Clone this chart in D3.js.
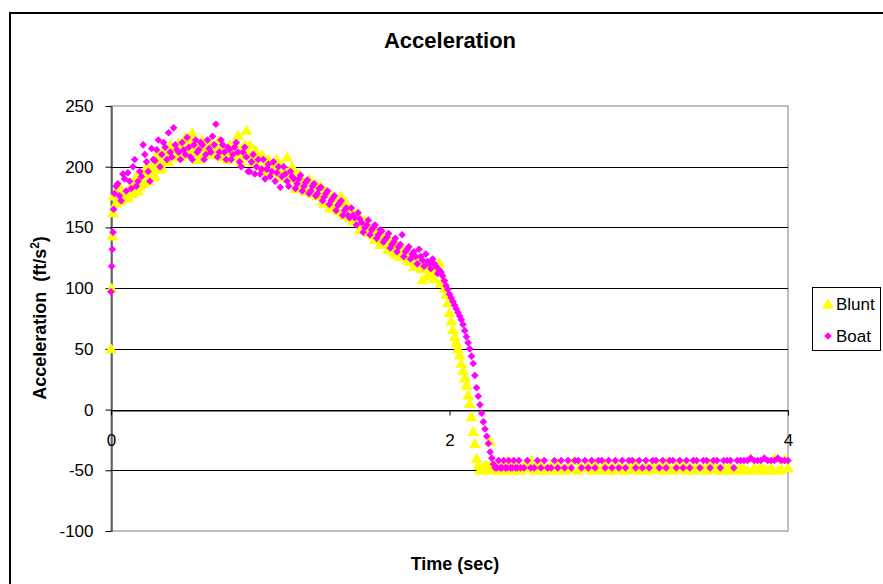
<!DOCTYPE html>
<html>
<head>
<meta charset="utf-8">
<script src="https://cdn.jsdelivr.net/npm/d3@7"></script>
<style>
  body { margin: 0; background: #fff; }
  text { font-family: Arial, "Liberation Sans", sans-serif; fill: #000; }
</style>
</head>
<body>
<div id="chart"></div>
<script>
// sample times (sec), shared by both runs
var time = [
  0, 0.004, 0.008, 0.012, 0.016,
  0.02, 0.03, 0.04, 0.05, 0.06, 0.07, 0.08, 0.09, 0.10, 0.11,
  0.12, 0.13, 0.14, 0.15, 0.16, 0.17, 0.18, 0.19, 0.20, 0.21,
  0.22, 0.23, 0.24, 0.25, 0.26, 0.27, 0.28, 0.29, 0.30, 0.31,
  0.32, 0.33, 0.34, 0.35, 0.36, 0.37, 0.38, 0.39, 0.40, 0.41,
  0.42, 0.43, 0.44, 0.45, 0.46, 0.47, 0.48, 0.49, 0.50, 0.51,
  0.52, 0.53, 0.54, 0.55, 0.56, 0.57, 0.58, 0.59, 0.60, 0.61,
  0.62, 0.63, 0.64, 0.65, 0.66, 0.67, 0.68, 0.69, 0.70, 0.71,
  0.72, 0.73, 0.74, 0.75, 0.76, 0.77, 0.78, 0.79, 0.80, 0.81,
  0.82, 0.83, 0.84, 0.85, 0.86, 0.87, 0.88, 0.89, 0.90, 0.91,
  0.92, 0.93, 0.94, 0.95, 0.96, 0.97, 0.98, 0.99, 1.00, 1.01,
  1.02, 1.03, 1.04, 1.05, 1.06, 1.07, 1.08, 1.09, 1.10, 1.11,
  1.12, 1.13, 1.14, 1.15, 1.16, 1.17, 1.18, 1.19, 1.20, 1.21,
  1.22, 1.23, 1.24, 1.25, 1.26, 1.27, 1.28, 1.29, 1.30, 1.31,
  1.32, 1.33, 1.34, 1.35, 1.36, 1.37, 1.38, 1.39, 1.40, 1.41,
  1.42, 1.43, 1.44, 1.45, 1.46, 1.47, 1.48, 1.49, 1.50, 1.51,
  1.52, 1.53, 1.54, 1.55, 1.56, 1.57, 1.58, 1.59, 1.60, 1.61,
  1.62, 1.63, 1.64, 1.65, 1.66, 1.67, 1.68, 1.69, 1.70, 1.71,
  1.72, 1.73, 1.74, 1.75, 1.76, 1.77, 1.78, 1.79, 1.80, 1.81,
  1.82, 1.83, 1.84, 1.85, 1.86, 1.87, 1.88, 1.89, 1.90, 1.91,
  1.92, 1.93, 1.94, 1.95, 1.96, 1.97, 1.98, 1.99, 2.00, 2.01,
  2.02, 2.03, 2.04, 2.05, 2.06, 2.07, 2.08, 2.09, 2.10, 2.11,
  2.12, 2.13, 2.14, 2.15, 2.16, 2.17, 2.18, 2.19, 2.20, 2.21,
  2.22, 2.23, 2.24, 2.25, 2.26, 2.27, 2.28, 2.29, 2.30, 2.31,
  2.32, 2.33, 2.34, 2.35, 2.36, 2.37, 2.38, 2.39, 2.40, 2.41,
  2.42, 2.44, 2.46, 2.48, 2.50, 2.52, 2.54, 2.56, 2.58, 2.60,
  2.62, 2.64, 2.66, 2.68, 2.70, 2.72, 2.74, 2.76, 2.78, 2.80,
  2.82, 2.84, 2.86, 2.88, 2.90, 2.92, 2.94, 2.96, 2.98, 3.00,
  3.02, 3.04, 3.06, 3.08, 3.10, 3.12, 3.14, 3.16, 3.18, 3.20,
  3.22, 3.24, 3.26, 3.28, 3.30, 3.32, 3.34, 3.36, 3.38, 3.40,
  3.42, 3.44, 3.46, 3.48, 3.50, 3.52, 3.54, 3.56, 3.58, 3.60,
  3.62, 3.64, 3.66, 3.68, 3.70, 3.72, 3.74, 3.76, 3.78, 3.80,
  3.82, 3.84, 3.86, 3.88, 3.90, 3.92, 3.94, 3.96, 3.98, 4.00
];

// acceleration (ft/s^2)
var blunt = [
  50, 100, 143, 162, 176,
  176, 170, 180, 184, 172, 178, 178, 174, 175, 182,
  182, 178, 186, 192, 180, 184, 190, 186, 194, 200,
  188, 194, 198, 202, 192, 210, 205, 198, 200, 214,
  210, 206, 204, 218, 215, 210, 208, 214, 220, 208,
  212, 218, 224, 210, 216, 222, 228, 214, 212, 206,
  218, 216, 222, 210, 215, 220, 220, 212, 210, 218,
  216, 210, 222, 216, 208, 212, 214, 206, 218, 216,
  212, 208, 220, 226, 210, 204, 215, 218, 230, 212,
  218, 208, 204, 214, 212, 202, 200, 210, 208, 200,
  196, 206, 204, 196, 198, 202, 206, 192, 194, 200,
  200, 196, 208, 190, 190, 200, 196, 182, 186, 194,
  192, 186, 184, 180, 188, 190, 180, 178, 184, 186,
  176, 180, 184, 172, 170, 180, 178, 166, 168, 176,
  174, 170, 164, 172, 176, 162, 160, 170, 166, 158,
  162, 156, 155, 162, 160, 148, 150, 154, 156, 152,
  146, 146, 150, 144, 140, 148, 146, 136, 138, 142,
  142, 136, 132, 140, 138, 130, 128, 136, 134, 126,
  126, 132, 130, 124, 122, 128, 126, 118, 118, 122,
  124, 116, 107, 120, 118, 110, 112, 116, 120, 108,
  114, 117, 121, 104, 107, 100, 95, 88, 80, 73,
  66, 60, 55, 50, 45, 38, 32, 26, 20, 12,
  5, -6, -18, -28, -40, -46, -50, -49, -48, -46,
  -46, -50, -26, -44, -50, -48, -44, -50, -48, -46,
  -50, -48, -42, -50, -47, -44, -50, -48, -45, -50,
  -50, -46, -48, -42, -50, -47, -44, -50, -48, -46,
  -50, -44, -48, -50, -46, -49, -42, -50, -47, -48,
  -46, -50, -44, -48, -50, -45, -48, -50, -43, -49,
  -47, -50, -45, -49, -44, -50, -48, -46, -50, -44,
  -49, -46, -50, -43, -48, -50, -46, -49, -44, -50,
  -47, -50, -45, -49, -48, -50, -44, -49, -47, -50,
  -48, -50, -46, -49, -50, -47, -49, -50, -40, -48,
  -50, -47, -49, -50, -48, -40, -50, -49, -41, -48
];

var boat = [
  97, 118, 132, 146, 165,
  178, 184, 186, 176, 172, 194, 190, 180, 195, 188,
  182, 200, 206, 184, 188, 196, 192, 218, 210, 204,
  196, 188, 215, 206, 205, 214, 222, 200, 210, 220,
  216, 206, 228, 212, 208, 232, 218, 214, 212, 206,
  220, 214, 210, 224, 216, 208, 206, 218, 222, 212,
  214, 220, 218, 206, 210, 222, 215, 212, 225, 218,
  235, 208, 212, 222, 218, 212, 206, 216, 214, 206,
  210, 216, 220, 212, 204, 200, 212, 216, 208, 196,
  196, 204, 210, 194, 200, 206, 194, 198, 206, 190,
  198, 202, 192, 196, 204, 188, 195, 200, 183, 192,
  200, 194, 188, 184, 196, 192, 190, 182, 186, 190,
  193, 180, 184, 187, 189, 178, 180, 184, 186, 176,
  178, 182, 183, 172, 175, 178, 180, 169, 172, 174,
  176, 164, 168, 170, 172, 160, 164, 166, 160, 158,
  166, 160, 158, 152, 162, 157, 154, 146, 150, 152,
  156, 144, 148, 150, 152, 141, 144, 148, 147, 138,
  140, 142, 145, 133, 136, 138, 141, 130, 134, 136,
  144, 126, 130, 132, 134, 124, 128, 130, 126, 120,
  132, 126, 123, 118, 128, 122, 120, 116, 124, 120,
  118, 112, 115, 113, 110, 106, 102, 99, 95, 92,
  89, 86, 83, 80, 77, 74, 70, 65, 60, 55,
  50, 44, 38, 28, 18, 11, 4, -3, -10, -16,
  -22, -28, -35, -40, -45, -48, -48, -42, -48, -48,
  -42, -48, -48, -42, -48, -48, -42, -48, -48, -42,
  -48, -48, -42, -48, -48, -42, -48, -42, -48, -48,
  -42, -48, -42, -48, -42, -48, -42, -42, -48, -42,
  -48, -42, -48, -42, -42, -48, -42, -48, -42, -48,
  -42, -48, -42, -42, -48, -42, -48, -42, -48, -42,
  -42, -48, -42, -48, -42, -42, -48, -42, -48, -42,
  -48, -42, -42, -48, -42, -42, -48, -42, -42, -48,
  -42, -42, -42, -48, -42, -42, -42, -42, -40, -42,
  -42, -42, -40, -42, -42, -42, -40, -42, -42, -42
];

var yTicks = [-100, -50, 0, 50, 100, 150, 200, 250];
var xTicks = [0, 2, 4];

var width = 883, height = 584;

var svg = d3.select("#chart").append("svg")
    .attr("width", width)
    .attr("height", height);

// chart frame
svg.append("rect")
    .attr("x", 10).attr("y", 13)
    .attr("width", 900).attr("height", 620)
    .attr("fill", "#fff")
    .attr("stroke", "#000")
    .attr("stroke-width", 2);

var x = d3.scaleLinear().domain([0, 4]).range([111, 788]);
var y = d3.scaleLinear().domain([-100, 250]).range([531, 106]);

// plot area
svg.append("rect")
    .attr("x", x(0)).attr("y", y(250))
    .attr("width", x(4) - x(0)).attr("height", y(-100) - y(250))
    .attr("fill", "#fff")
    .attr("stroke", "#808080")
    .attr("stroke-width", 1);

// gridlines
svg.append("g")
    .selectAll("line")
    .data(yTicks.filter(function(d) { return d > -100 && d < 250; }))
    .enter().append("line")
    .attr("x1", x(0)).attr("x2", x(4))
    .attr("y1", function(d) { return Math.round(y(d)) + 0.5; })
    .attr("y2", function(d) { return Math.round(y(d)) + 0.5; })
    .attr("stroke", "#000")
    .attr("stroke-width", 1);

// y axis
var yAxis = svg.append("g")
    .attr("transform", "translate(" + (x(0) + 0.5) + ",0)")
    .call(d3.axisLeft(y).tickValues(yTicks).tickFormat(function(d) { return String(d); })
        .tickSize(6).tickSizeOuter(0).tickPadding(12));
yAxis.select(".domain").attr("stroke", "#000");
yAxis.selectAll(".tick line").attr("stroke", "#000");
yAxis.selectAll("text")
    .style("font-family", "Arial, 'Liberation Sans', sans-serif")
    .style("font-size", "17px");

// x axis crossing at zero
var xAxis = svg.append("g")
    .attr("transform", "translate(0," + (Math.round(y(0)) + 0.5) + ")")
    .call(d3.axisBottom(x).tickValues(xTicks).tickFormat(function(d) { return String(d); })
        .tickSize(5).tickSizeOuter(0).tickPadding(18));
xAxis.select(".domain").attr("stroke", "#000");
xAxis.selectAll(".tick line").attr("stroke", "#000");
xAxis.selectAll("text")
    .style("font-family", "Arial, 'Liberation Sans', sans-serif")
    .style("font-size", "17px");

var triangle = "M0,-5.5L6,4.5L-6,4.5Z";
var diamond = "M0,-3.8L3.8,0L0,3.8L-3.8,0Z";

var bluntPts = time.map(function(t, i) { return [t, blunt[i]]; });
var boatPts = time.map(function(t, i) { return [t, boat[i]]; });

svg.append("g")
    .selectAll("path")
    .data(bluntPts)
    .enter().append("path")
    .attr("d", triangle)
    .attr("transform", function(d) { return "translate(" + x(d[0]) + "," + y(d[1]) + ")"; })
    .attr("fill", "#ffff00");

svg.append("g")
    .selectAll("path")
    .data(boatPts)
    .enter().append("path")
    .attr("d", diamond)
    .attr("transform", function(d) { return "translate(" + x(d[0]) + "," + y(d[1]) + ")"; })
    .attr("fill", "#ff00ff");

// titles
svg.append("text")
    .attr("x", 450).attr("y", 48)
    .attr("text-anchor", "middle")
    .style("font-size", "22px")
    .style("font-weight", "bold")
    .text("Acceleration");

svg.append("text")
    .attr("x", 455).attr("y", 570)
    .attr("text-anchor", "middle")
    .style("font-size", "18px")
    .style("font-weight", "bold")
    .text("Time (sec)");

var yLabel = svg.append("text")
    .attr("transform", "translate(46,318) rotate(-90)")
    .attr("text-anchor", "middle")
    .style("font-size", "18px")
    .style("font-weight", "bold");
yLabel.append("tspan").text("Acceleration\u00a0\u00a0(ft/s");
yLabel.append("tspan").attr("dy", -7).style("font-size", "12px").text("2");
yLabel.append("tspan").attr("dy", 7).text(")");

// legend
var legend = svg.append("g");
legend.append("rect")
    .attr("x", 812.5).attr("y", 287.5)
    .attr("width", 68).attr("height", 63)
    .attr("fill", "#fff")
    .attr("stroke", "#000");

var legendItems = [
  { name: "Blunt", shape: triangle, color: "#ffff00", cy: 304 },
  { name: "Boat", shape: diamond, color: "#ff00ff", cy: 336 }
];
legendItems.forEach(function(d) {
  legend.append("path")
      .attr("d", d.shape)
      .attr("transform", "translate(828," + d.cy + ")")
      .attr("fill", d.color);
  legend.append("text")
      .attr("x", 836).attr("y", d.cy + 6)
      .style("font-size", "17px")
      .text(d.name);
});
</script>
</body>
</html>
